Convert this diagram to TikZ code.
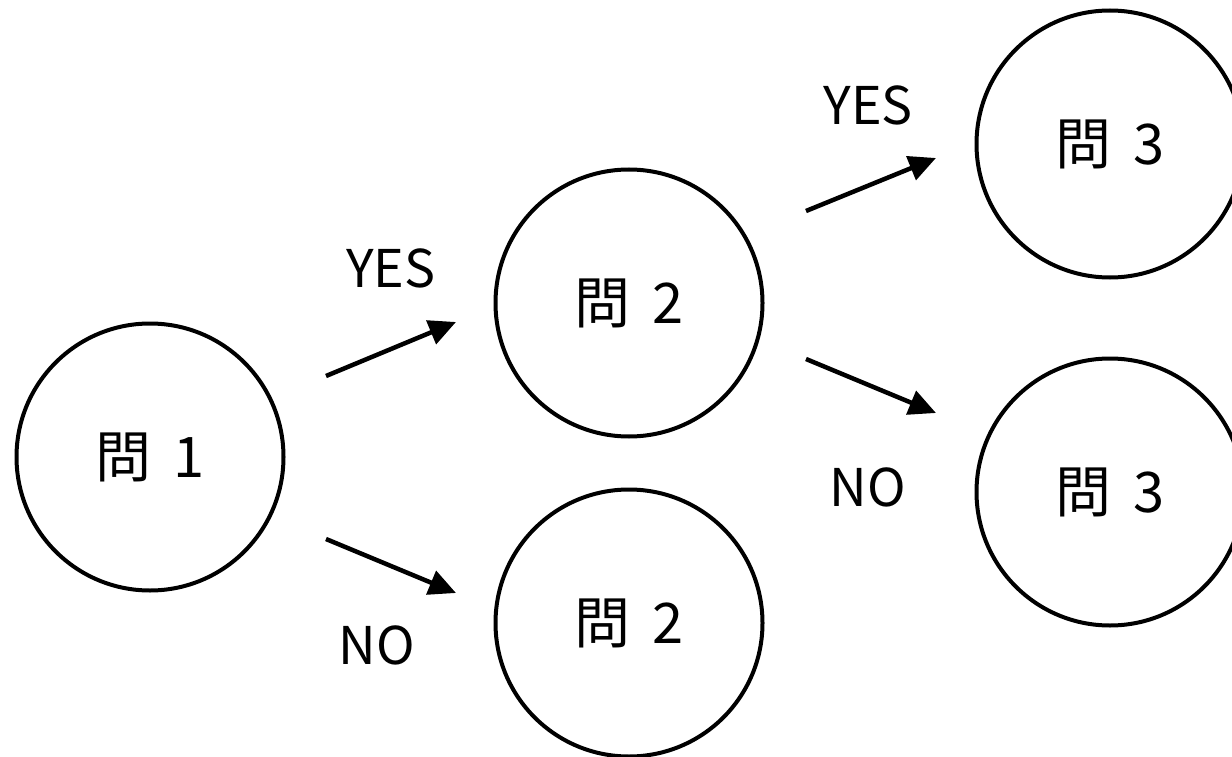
\documentclass[tikz,border=0pt]{standalone}
\usepackage{fontspec}
\setmainfont{Noto Sans CJK JP}
\usetikzlibrary{arrows.meta}
\begin{document}
\begin{tikzpicture}[x=1pt,y=-1pt,
  qnode/.style={circle,draw=black,line width=4pt,minimum size=267pt,inner sep=0pt,font=\fontsize{56}{66}\selectfont},
  lbl/.style={font=\fontsize{52}{62}\selectfont,inner sep=0pt},
  arr/.style={line width=4.5pt,-{Triangle[length=27pt,width=25pt]}}]
\useasboundingbox (0,0) rectangle (1232,757);
\node[qnode] (q1) at (150,457) {問\hspace{0.4em}1};
\node[qnode] (q2a) at (629,303) {問\hspace{0.4em}2};
\node[qnode] (q2b) at (629,623) {問\hspace{0.4em}2};
\node[qnode] (q3a) at (1110,144) {問\hspace{0.4em}3};
\node[qnode] (q3b) at (1110,492) {問\hspace{0.4em}3};
\coordinate (s1) at (326,376); \coordinate (e1) at (456,322);
\coordinate (s2) at (326,539); \coordinate (e2) at (456,593);
\coordinate (s3) at (806,211); \coordinate (e3) at (936,158);
\coordinate (s4) at (806,359); \coordinate (e4) at (936,413);
\draw[arr] (s1) -- (e1);
\draw[arr] (s2) -- (e2);
\draw[arr] (s3) -- (e3);
\draw[arr] (s4) -- (e4);
\node[lbl] (y1) at (391,268) {YES};
\node[lbl] (n1) at (377,645) {NO};
\node[lbl] (y2) at (868,105) {YES};
\node[lbl] (n2) at (868,487) {NO};
\end{tikzpicture}
\end{document}
